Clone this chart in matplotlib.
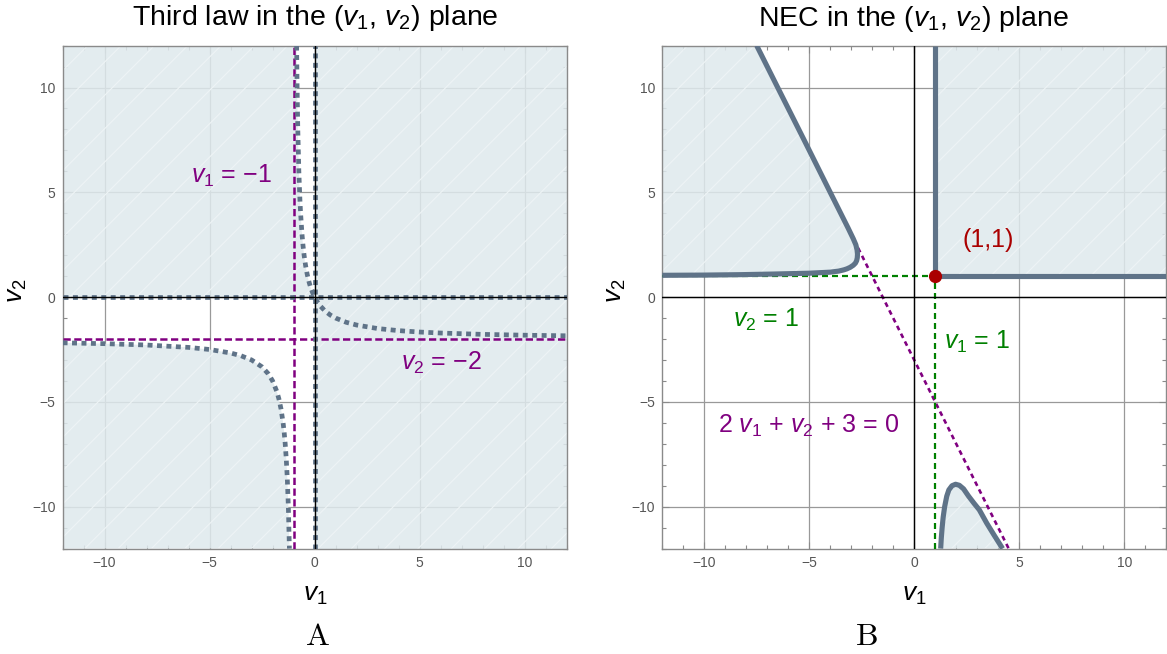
import matplotlib
matplotlib.use("Agg")
import matplotlib.pyplot as plt
from matplotlib.ticker import MultipleLocator, FixedLocator

plt.rcParams['font.family'] = ['Liberation Sans', 'DejaVu Sans']
plt.rcParams['mathtext.fontset'] = 'custom'
plt.rcParams['mathtext.it'] = 'Liberation Sans:italic'
plt.rcParams['mathtext.rm'] = 'Liberation Sans'
plt.rcParams['mathtext.sf'] = 'Liberation Sans'
plt.rcParams['hatch.linewidth'] = 0.8

# ---------------- data ----------------
axis_lo, axis_hi = -12, 12
tick_values = [-10, -5, 0, 5, 10]

# Panel A: third law
A_title = "Third law in the ($v_1$, $v_2$) plane"
A_asym_v1 = -1          # v1 = -1
A_asym_v2 = -2          # v2 = -2
A_bound_v1 = 0          # dotted boundary on v1 = 0
A_bound_v2 = 0          # dotted boundary on v2 = 0
A_upper_v1 = [-0.857, -0.833, -0.8, -0.75, -0.7, -0.667, -0.6, -0.55, -0.5, -0.45, -0.4,
              -0.35, -0.3, -0.25, -0.2, -0.15, -0.1, -0.05, 0.0, 0.1, 0.25, 0.5, 0.75,
              1, 1.5, 2, 3, 4, 5, 6, 8, 10, 12]
A_upper_v2 = [12, 10, 8, 6, 4.667, 4, 3, 2.444, 2, 1.636, 1.333,
              1.077, 0.857, 0.667, 0.5, 0.353, 0.222, 0.105, 0.0, -0.182, -0.4, -0.667, -0.857,
              -1.0, -1.2, -1.333, -1.5, -1.6, -1.667, -1.714, -1.778, -1.818, -1.846]
A_lower_v1 = [-12, -10, -8, -6, -5, -4, -3.5, -3, -2.5, -2.2, -2, -1.8, -1.7, -1.6,
              -1.5, -1.45, -1.4, -1.35, -1.3, -1.25, -1.2]
A_lower_v2 = [-2.182, -2.222, -2.286, -2.4, -2.5, -2.667, -2.8, -3.0, -3.333, -3.667, -4.0,
              -4.5, -4.857, -5.333, -6.0, -6.444, -7.0, -7.714, -8.667, -10.0, -12.0]
A_labels = ["$v_1$ = \u22121", "$v_2$ = \u22122"]
A_label_pos = [(-3.98, 5.8), (6.04, -3.14)]

# Panel B: NEC
B_title = "NEC in the ($v_1$, $v_2$) plane"
B_point = (1, 1)
B_line_v1 = [-7.5, 4.5]          # 2 v1 + v2 + 3 = 0
B_line_v2 = [12, -12]
B_curve_v1 = [-12, -10, -8.3, -6.7, -5.0, -4.0, -3.6, -3.35, -3.2, -3.05, -2.9, -2.8,
              -2.74, -2.71, -2.7, -2.72, -2.78, -2.9, -3.15, -3.5, -4.0, -5.22, -6.5, -7.5]
B_curve_v2 = [1.04, 1.05, 1.07, 1.1, 1.14, 1.19, 1.24, 1.3, 1.35, 1.42, 1.52, 1.62,
              1.74, 1.88, 2.05, 2.25, 2.5, 2.78, 3.3, 4.0, 5.0, 7.45, 10.0, 12.0]
B_blob_v1 = [1.26, 1.29, 1.33, 1.38, 1.45, 1.55, 1.65, 1.8, 1.97, 2.15, 2.35, 2.59,
             2.85, 3.1, 3.45, 3.8, 4.21]
B_blob_v2 = [-12.0, -11.5, -11.0, -10.5, -10.0, -9.5, -9.2, -9.0, -8.93, -8.98, -9.15, -9.5,
             -9.84, -10.15, -10.78, -11.35, -12.0]
B_labels = ["(1,1)", "$v_2$ = 1", "$v_1$ = 1", "2 $v_1$ + $v_2$ + 3 = 0"]
B_label_pos = [(3.5, 2.72), (-7.04, -1.11), (2.99, -2.16), (-5.01, -6.14)]

# ---------------- style ----------------
SHADE = '#dfe9ed'
HATCH = '#eef4f6'
BOUND = '#5f7388'
PURPLE = '#800080'
GREEN = '#008000'
RED = '#aa0000'
ANN = 18

W, H = 1167, 654
fig = plt.figure(figsize=(W / 100, H / 100), dpi=100)


def fx(px):
    return px / W


def fy(py):
    return 1 - py / H


axA = fig.add_axes([fx(62.6), fy(548.6), 504 / W, 503 / H])
axB = fig.add_axes([fx(662.2), fy(548.6), 504 / W, 503 / H])


def setup(ax):
    ax.set_xlim(axis_lo, axis_hi)
    ax.set_ylim(axis_lo, axis_hi)
    for axis in (ax.xaxis, ax.yaxis):
        axis.set_major_locator(FixedLocator(tick_values))
        axis.set_minor_locator(MultipleLocator(1))
    ax.tick_params(which='both', direction='in', top=True, right=True,
                   color='#8a8a8a', width=0.8)
    ax.tick_params(which='major', length=5, labelsize=10, labelcolor='#555555', pad=5)
    ax.tick_params(which='minor', length=3)
    for s in ax.spines.values():
        s.set_color('#8a8a8a')
        s.set_linewidth(1.0)
    ax.set_axisbelow(True)
    ax.grid(True, which='major', color='#999999', lw=0.9)
    ax.axhline(0, color='black', lw=1.0, zorder=4.5)
    ax.axvline(0, color='black', lw=1.0, zorder=4.5)


def shade(ax, xs, ys):
    ax.fill(xs, ys, facecolor=SHADE, alpha=0.86, lw=0, zorder=1)
    ax.fill(xs, ys, facecolor='none', edgecolor=HATCH, hatch='/', lw=0, zorder=1.1)


setup(axA)
setup(axB)

# ---- Panel A ----
shade(axA, [A_bound_v1, axis_hi, axis_hi, A_bound_v1], [axis_lo, axis_lo, axis_hi, axis_hi])
k0 = A_upper_v1.index(0.0)
shade(axA, A_upper_v1[:k0 + 1] + [axis_lo, axis_lo], A_upper_v2[:k0 + 1] + [A_bound_v2, axis_hi])
shade(axA, A_lower_v1 + [axis_lo], A_lower_v2 + [axis_lo])

pdash = dict(color=PURPLE, lw=1.8, linestyle=(0, (2.9, 1.4)), dash_capstyle='butt', zorder=3)
axA.axvline(A_asym_v1, **pdash)
axA.axhline(A_asym_v2, **pdash)

dot = dict(color=BOUND, lw=3.4, linestyle=(0, (1.05, 0.95)), dash_capstyle='butt', zorder=4)
axA.axvline(A_bound_v1, **dot)
axA.axhline(A_bound_v2, **dot)
axA.plot(A_upper_v1, A_upper_v2, **dot)
axA.plot(A_lower_v1, A_lower_v2, **dot)

for (tx, ty), s in zip(A_label_pos, A_labels):
    axA.text(tx, ty, s, color=PURPLE, fontsize=ANN, ha='center', va='center', zorder=7)

# ---- Panel B ----
px0, py0 = B_point
shade(axB, [px0, axis_hi, axis_hi, px0], [py0, py0, axis_hi, axis_hi])
shade(axB, B_curve_v1 + [axis_lo], B_curve_v2 + [axis_hi])
shade(axB, B_blob_v1, B_blob_v2)

axB.plot(B_line_v1, B_line_v2, color=PURPLE, lw=1.9, linestyle=(0, (1.8, 1.5)),
         dash_capstyle='butt', zorder=3)
axB.plot([axis_lo, px0, px0], [py0, py0, axis_lo], color=GREEN, lw=1.6,
         linestyle=(0, (2.7, 1.8)), dash_capstyle='butt', zorder=3)

solid = dict(color=BOUND, lw=3.7, solid_capstyle='butt', solid_joinstyle='round', zorder=5)
axB.plot([px0, px0, axis_hi], [axis_hi, py0, py0], **solid)
axB.plot(B_curve_v1, B_curve_v2, **solid)
axB.plot(B_blob_v1, B_blob_v2, **solid)
axB.plot([px0], [py0], 'o', color=RED, ms=8.5, mec=RED, zorder=6)

B_colors = [RED, GREEN, GREEN, PURPLE]
for (tx, ty), s, c in zip(B_label_pos, B_labels, B_colors):
    axB.text(tx, ty, s, color=c, fontsize=ANN, ha='center', va='center', zorder=7)

# ---- titles, axis labels, captions ----
fig.text(fx(315), fy(25), A_title, fontsize=20.5, ha='center', va='baseline')
fig.text(fx(914), fy(26), B_title, fontsize=20.5, ha='center', va='baseline')
for cx in (315, 914):
    fig.text(fx(cx), fy(601), "$v_1$", fontsize=19, ha='center', va='baseline')
for cx in (17, 616):
    fig.text(fx(cx), fy(291), "$v_2$", fontsize=19, ha='center', va='center', rotation=90)
fig.text(fx(318), fy(645), "A", fontsize=23, ha='center', va='baseline', family='cmr10')
fig.text(fx(867), fy(645), "B", fontsize=23, ha='center', va='baseline', family='cmr10')

fig.savefig("out.png", dpi=100)
